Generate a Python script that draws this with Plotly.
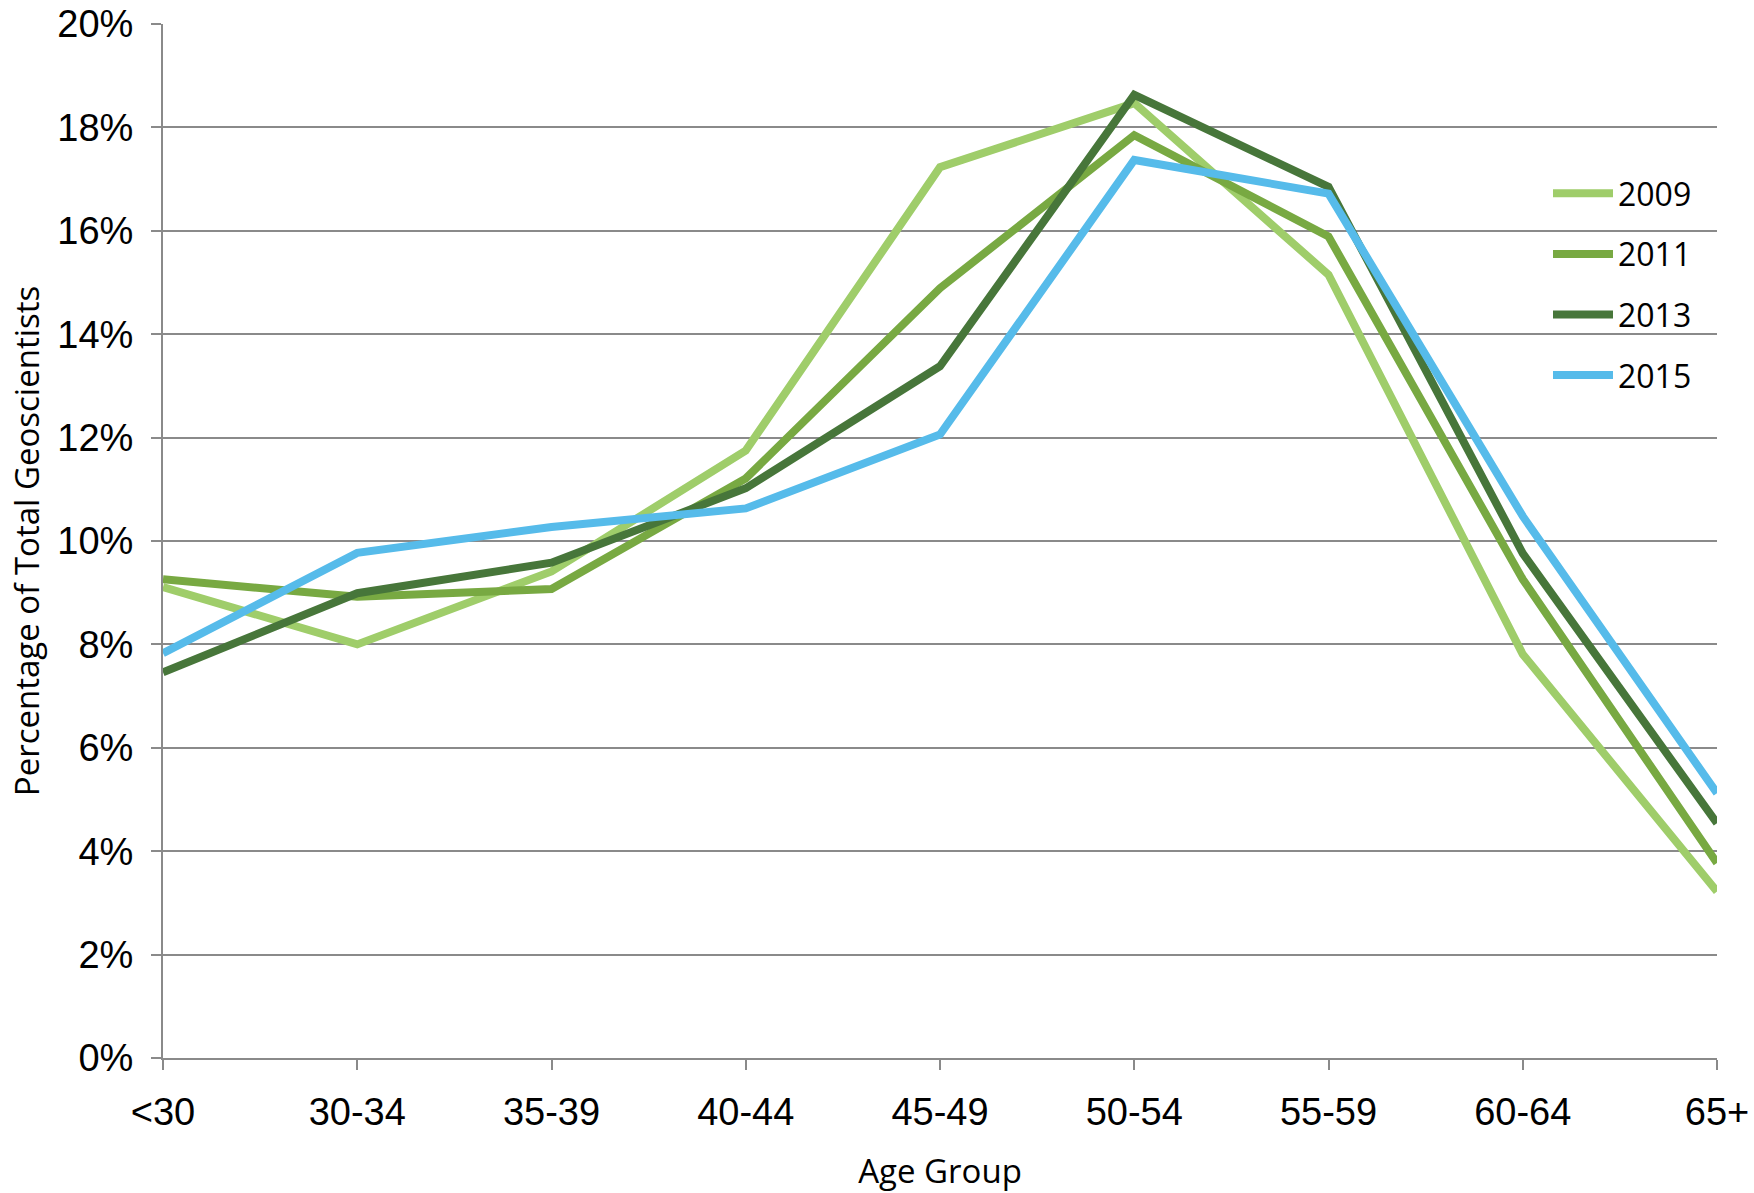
import plotly.graph_objects as go

age_groups = ["<30", "30-34", "35-39", "40-44", "45-49", "50-54", "55-59", "60-64", "65+"]
pct_2009 = [9.11, 8.00, 9.41, 11.75, 17.23, 18.47, 15.15, 7.81, 3.22]
pct_2011 = [9.26, 8.92, 9.07, 11.21, 14.89, 17.85, 15.89, 9.26, 3.77]
pct_2013 = [7.46, 8.99, 9.58, 11.02, 13.38, 18.63, 16.85, 9.76, 4.54]
pct_2015 = [7.83, 9.77, 10.27, 10.63, 12.06, 17.37, 16.72, 10.48, 5.12]

series = [
    ("2009", pct_2009, "#9fcd6a"),
    ("2011", pct_2011, "#78a942"),
    ("2013", pct_2013, "#47763a"),
    ("2015", pct_2015, "#56bbea"),
]

y_ticks = [0, 2, 4, 6, 8, 10, 12, 14, 16, 18, 20]
y_tick_text = [f"{v}%" for v in y_ticks]

fig = go.Figure()
for name, vals, color in series:
    fig.add_trace(go.Scatter(
        x=age_groups, y=vals, name=name, mode="lines",
        line=dict(color=color, width=8),
        legendgroup=name,
    ))

grid = "#8a8a8a"
tick_font = dict(family="Liberation Sans, Arial, sans-serif", size=38, color="#000000")
title_font = dict(family="Open Sans, sans-serif", size=33, color="#000000")

fig.update_layout(
    width=1754, height=1193,
    margin=dict(l=163, r=37, t=24, b=135, autoexpand=False),
    paper_bgcolor="white", plot_bgcolor="white",
    showlegend=True,
    legend=dict(
        x=(1548 - 163) / 1554, xanchor="left",
        y=(1058 - 166) / 1034, yanchor="top",
        font=dict(family="Open Sans, sans-serif", size=32, color="#000000"),
        bgcolor="rgba(0,0,0,0)",
        tracegroupgap=16,
        itemwidth=60,
    ),
)

fig.update_xaxes(
    type="category",
    range=[0, 8],
    showgrid=False,
    showline=True, linecolor=grid, linewidth=2,
    ticks="outside", ticklen=10, tickwidth=2, tickcolor=grid,
    tickfont=tick_font,
    ticklabelstandoff=9,
    title=dict(text="Age Group", font=title_font, standoff=38),
    zeroline=False,
)
fig.update_yaxes(
    range=[0, 20],
    tickvals=y_ticks, ticktext=y_tick_text,
    showgrid=True, gridcolor=grid, gridwidth=1.5,
    showline=True, linecolor=grid, linewidth=2,
    ticks="outside", ticklen=10, tickwidth=2, tickcolor=grid,
    tickfont=tick_font,
    ticklabelstandoff=10,
    title=dict(text="Percentage of Total Geoscientists", font=title_font, standoff=8),
    zeroline=False,
)

fig.write_html("out.html")
